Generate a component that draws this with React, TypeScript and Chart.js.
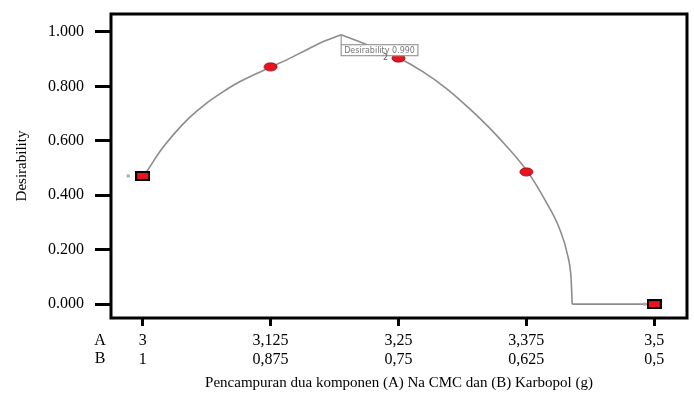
import React, { useEffect, useRef } from "react";
import { Chart, registerables } from "chart.js";

Chart.register(...registerables);

// ---- data ----
const curveX = [3.0, 3.0036, 3.0166, 3.0296, 3.0459, 3.0622, 3.0784, 3.0947, 3.1257, 3.1436, 3.1599, 3.1761, 3.194, 3.2249, 3.2503, 3.2737, 3.2966, 3.3226, 3.3486, 3.3763, 3.3942, 3.4072, 3.4153, 3.4187, 3.4198, 3.49, 3.5];
const curveY = [0.471, 0.486, 0.56, 0.621, 0.686, 0.738, 0.78, 0.817, 0.872, 0.903, 0.934, 0.964, 0.99, 0.945, 0.904, 0.854, 0.793, 0.707, 0.609, 0.486, 0.376, 0.279, 0.18, 0.094, 0.0, 0.0, 0.0];

const designX = [3.0, 3.125, 3.25, 3.375, 3.5];
const designY = [0.471, 0.872, 0.904, 0.486, 0.0];
const designShape = ["rect", "ellipse", "ellipse", "ellipse", "rect"];

const peakX = 3.194;
const peakY = 0.99;
const peakLabel = "Desirability 0.990";

const xTicks = [3, 3.125, 3.25, 3.375, 3.5];
const aLabels = ["3", "3,125", "3,25", "3,375", "3,5"];
const bLabels = ["1", "0,875", "0,75", "0,625", "0,5"];
const yTicks = [0, 0.2, 0.4, 0.6, 0.8, 1.0];

const yTitle = "Desirability";
const xTitle = "Pencampuran dua komponen (A) Na CMC dan (B) Karbopol (g)";

const SERIF = "'Liberation Serif', 'Times New Roman', 'DejaVu Serif', serif";

function makeEllipse(): HTMLCanvasElement {
  const c = document.createElement("canvas");
  c.width = 15;
  c.height = 10;
  const g = c.getContext("2d")!;
  g.beginPath();
  g.ellipse(7.5, 5, 6.5, 4, 0, 0, Math.PI * 2);
  g.fillStyle = "#ea1420";
  g.fill();
  g.lineWidth = 1;
  g.strokeStyle = "#9a0a10";
  g.stroke();
  return c;
}

function makeRect(): HTMLCanvasElement {
  const c = document.createElement("canvas");
  c.width = 15;
  c.height = 10;
  const g = c.getContext("2d")!;
  g.fillStyle = "#000";
  g.fillRect(0, 0, 15, 10);
  g.fillStyle = "#ea1420";
  g.fillRect(2, 2, 11, 6);
  return c;
}

const framePlugin = {
  id: "frameAndLabels",
  afterDraw(chart: any) {
    const { ctx, chartArea } = chart;
    const xs = chart.scales.x;
    const ys = chart.scales.y;
    ctx.save();
    // frame
    ctx.strokeStyle = "#000";
    ctx.lineWidth = 3;
    ctx.strokeRect(chartArea.left, chartArea.top, chartArea.right - chartArea.left, chartArea.bottom - chartArea.top);
    // A / B row labels
    ctx.fillStyle = "#000";
    ctx.font = `16px ${SERIF}`;
    ctx.textAlign = "center";
    ctx.textBaseline = "middle";
    ctx.fillText("A", 100, chartArea.bottom + 23);
    ctx.fillText("B", 100, chartArea.bottom + 41);
    // peak annotation
    const px = xs.getPixelForValue(peakX);
    const py = ys.getPixelForValue(peakY);
    ctx.strokeStyle = "#999";
    ctx.lineWidth = 1.2;
    ctx.beginPath();
    ctx.moveTo(px, py);
    ctx.lineTo(px, py + 10);
    ctx.stroke();
    ctx.font = `8px 'DejaVu Sans', sans-serif`;
    const tw = ctx.measureText(peakLabel).width;
    const bx = px;
    const by = py + 10;
    ctx.fillStyle = "#fff";
    ctx.fillRect(bx, by, tw + 6, 11);
    ctx.strokeRect(bx, by, tw + 6, 11);
    ctx.fillStyle = "#777";
    ctx.textAlign = "left";
    ctx.fillText(peakLabel, bx + 3, by + 6);
    // small design point label
    const lx = xs.getPixelForValue(designX[2]);
    const ly = ys.getPixelForValue(designY[2]);
    ctx.fillStyle = "#666";
    ctx.textAlign = "center";
    ctx.fillText("2", lx - 13, ly);
    // small gray dots
    ctx.fillStyle = "#aaa";
    const d1x = xs.getPixelForValue(designX[0]);
    const d1y = ys.getPixelForValue(designY[0]);
    ctx.fillRect(d1x - 16, d1y - 1.5, 3, 3);
    const d2x = xs.getPixelForValue(designX[4]);
    const d2y = ys.getPixelForValue(designY[4]);
    ctx.fillRect(d2x - 11, d2y - 1.5, 3, 3);
    ctx.restore();
  },
};

export default function App() {
  const ref = useRef<HTMLCanvasElement | null>(null);

  useEffect(() => {
    if (!ref.current) return;
    const ellipse = makeEllipse();
    const rect = makeRect();
    const pts = curveX.map((x, i) => ({ x, y: curveY[i] }));
    const peakIdx = curveX.indexOf(peakX);
    const dropIdx = curveY.indexOf(0);
    const pieces = [pts.slice(0, peakIdx + 1), pts.slice(peakIdx, dropIdx + 1), pts.slice(dropIdx)];
    const curveSets = pieces.map((p, k) => ({
      label: "desirability-" + k,
      data: p,
      borderColor: "#8c8c8c",
      borderWidth: 1.6,
      pointRadius: 0,
      cubicInterpolationMode: "monotone",
      fill: false,
      order: 1,
    }));
    const chart = new Chart(ref.current, {
      type: "line",
      data: {
        datasets: [
          {
            label: "points",
            data: designX.map((x, i) => ({ x, y: designY[i] })),
            showLine: false,
            pointStyle: (c: any) => (designShape[c.dataIndex] === "rect" ? rect : ellipse),
            pointRadius: 6,
            order: 0,
          },
          ...curveSets,
        ],
      },
      options: {
        responsive: false,
        animation: false,
        layout: { padding: { top: 14, right: 6, left: 0, bottom: 0 } },
        plugins: { legend: { display: false }, tooltip: { enabled: false } },
        scales: {
          x: {
            type: "linear",
            min: 2.969,
            max: 3.532,
            afterBuildTicks: (s: any) => {
              s.ticks = xTicks.map((v) => ({ value: v }));
            },
            afterFit: (s: any) => {
              s.height = 76;
              s.paddingLeft = 0;
              s.paddingRight = 0;
            },
            border: { display: false },
            grid: { drawOnChartArea: false, drawTicks: true, tickLength: 8, color: "#000", lineWidth: 3 },
            ticks: {
              color: "#000",
              padding: 6,
              maxRotation: 0,
              autoSkip: false,
              font: { family: SERIF, size: 16, lineHeight: 1.15 },
              callback: (v: any) => {
                const i = xTicks.findIndex((t) => Math.abs(t - Number(v)) < 1e-6);
                return i >= 0 ? [aLabels[i], bLabels[i]] : "";
              },
            },
            title: {
              display: true,
              text: xTitle,
              color: "#000",
              font: { family: SERIF, size: 15, lineHeight: 1.2 },
              padding: { top: 0, bottom: 2 },
            },
          },
          y: {
            type: "linear",
            min: -0.051,
            max: 1.066,
            afterBuildTicks: (s: any) => {
              s.ticks = yTicks.map((v) => ({ value: v }));
            },
            afterFit: (s: any) => {
              s.width = 111;
              s.paddingTop = 0;
              s.paddingBottom = 0;
            },
            border: { display: false },
            grid: { drawOnChartArea: false, drawTicks: true, tickLength: 16, color: "#000", lineWidth: 3 },
            ticks: {
              color: "#000",
              padding: 11,
              font: { family: SERIF, size: 16 },
              callback: (v: any) => Number(v).toFixed(3),
            },
            title: {
              display: true,
              text: yTitle,
              color: "#000",
              font: { family: SERIF, size: 15, lineHeight: 1.2 },
              padding: { top: 13, bottom: 0 },
            },
          },
        },
      },
      plugins: [framePlugin],
    } as any);
    return () => chart.destroy();
  }, []);

  return (
    <div style={{ position: "absolute", left: 0, top: 0, width: 694, height: 394, background: "#fff" }}>
      <canvas ref={ref} width={694} height={394} style={{ display: "block" }} />
    </div>
  );
}
